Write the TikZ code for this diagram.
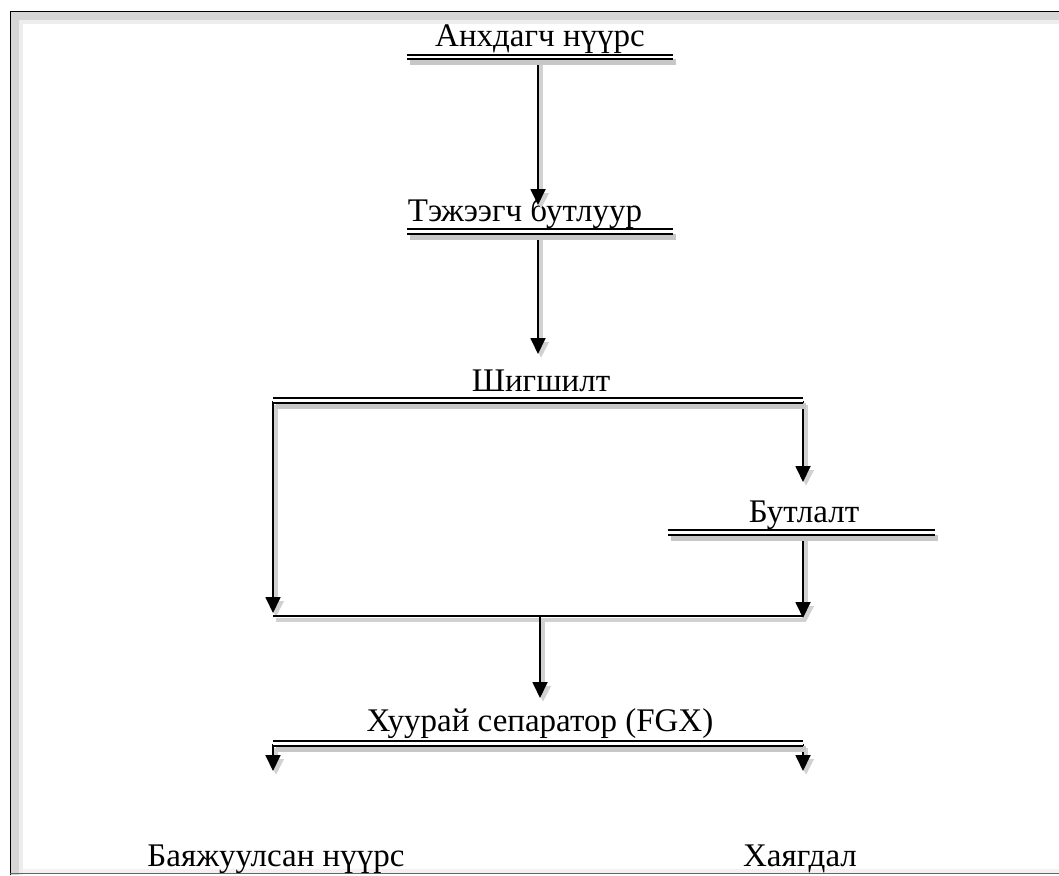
\documentclass[tikz,border=0pt]{standalone}
\usepackage{fontspec}
\setmainfont{Liberation Serif}
\usetikzlibrary{arrows.meta}
\tikzset{
  lbl/.style={font=\fontsize{33}{33}\selectfont, inner sep=0pt, anchor=base},
  shadowline/.style={draw=black!22, line width=6pt, transform canvas={shift={(3pt,-5pt)}}},
  bar/.style={draw=black, double=white, double distance=2.4pt, line width=2.1pt,
    preaction={shadowline}},
  flow/.style={draw=black, line width=1.8pt, -{Triangle[length=16pt,width=15pt]},
    preaction={draw=black!18, line width=4pt, transform canvas={shift={(3pt,-4pt)}}}},
  plain/.style={draw=black, line width=1.8pt,
    preaction={draw=black!18, line width=4pt, transform canvas={shift={(3pt,-4pt)}}}},
}
\begin{document}
\begin{tikzpicture}[x=1pt,y=-1pt]
\useasboundingbox (0,0) rectangle (1059,875);
% frame
\fill[black!16] (10,11) rectangle (1059,20);
\fill[black!16] (10,11) rectangle (19,875);
\fill[black!7] (19,20) rectangle (1059,24);
\fill[black!7] (19,20) rectangle (23,875);
\fill[black!5] (23,869) rectangle (1059,873);
\draw[black, line width=1pt] (10,875) -- (10,11.5) -- (1059,11.5);
\draw[black!60, line width=1.2pt] (10,873.5) -- (1059,873.5);

% labels
\node[lbl] (t1) at (540,47) {Анхдагч нүүрс};
\node[lbl] (t2) at (525,221) {Тэжээгч бутлуур};
\node[lbl] (t3) at (541,391) {Шигшилт};
\node[lbl] (t4) at (804,522) {Бутлалт};
\node[lbl] (t5) at (540,731) {Хуурай сепаратор (FGX)};
\node[lbl] (t6) at (276,866) {Баяжуулсан нүүрс};
\node[lbl] (t7) at (800,866) {Хаягдал};

% bar coordinates
\coordinate (b1l) at (407,57);  \coordinate (b1r) at (673,57);  \coordinate (b1m) at (538,57);
\coordinate (b2l) at (407,231.5); \coordinate (b2r) at (673,231.5); \coordinate (b2m) at (538,231.5);
\coordinate (b3l) at (273,400.5); \coordinate (b3r) at (803,400.5);
\coordinate (b4l) at (668,532.5); \coordinate (b4r) at (935,532.5); \coordinate (b4m) at (803,532.5);
\coordinate (b5l) at (273,743.5); \coordinate (b5r) at (803,743.5);
% arrow targets
\coordinate (a2) at (538,205);
\coordinate (a3) at (538,354);
\coordinate (a4) at (803,482);
\coordinate (jl) at (273,613);
\coordinate (jr) at (803,618);
\coordinate (hl) at (273,616);
\coordinate (hr) at (803,616);
\coordinate (hm) at (540,616);
\coordinate (a5) at (540,698);
\coordinate (a6) at (273,771);
\coordinate (a7) at (803,771);

% connectors
\draw[flow] (b1m) -- (a2);
\draw[flow] (b2m) -- (a3);
\draw[flow] (b3l) -- (jl);
\draw[flow] (b3r) -- (a4);
\draw[flow] (b4m) -- (jr);
\draw[plain] (hl) -- (hr);
\draw[flow] (hm) -- (a5);
\draw[flow] (b5l) -- (a6);
\draw[flow] (b5r) -- (a7);

% bars
\draw[bar] (b1l) -- (b1r);
\draw[bar] (b2l) -- (b2r);
\draw[bar] (b3l) -- (b3r);
\draw[bar] (b4l) -- (b4r);
\draw[bar] (b5l) -- (b5r);
\end{tikzpicture}
\end{document}
